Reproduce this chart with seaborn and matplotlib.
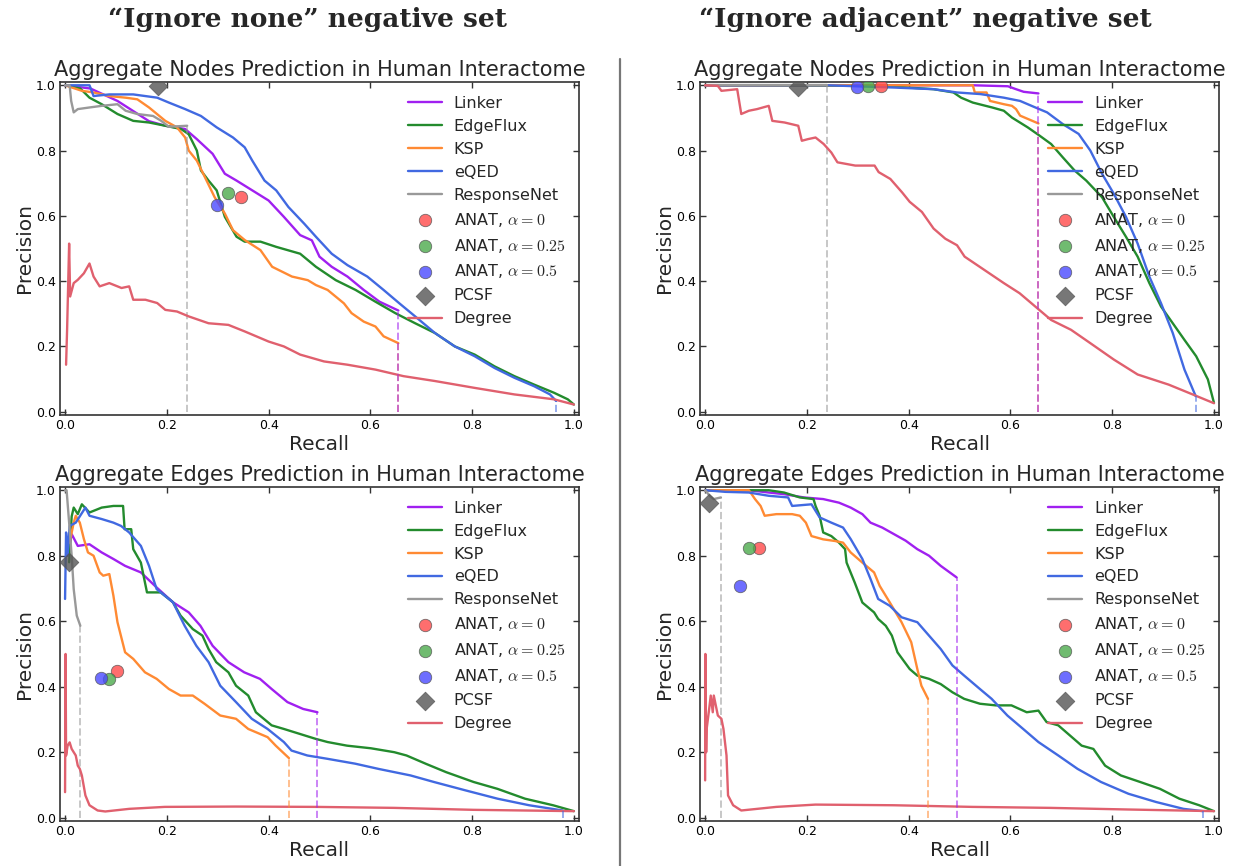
import matplotlib
matplotlib.use("Agg")
import matplotlib.pyplot as plt
import seaborn as sns
import pandas as pd

# ---- data: (recall, precision) ----
# top-left: nodes, ignore none
tl_linker = [(0, 1.0), (0.05, 0.99), (0.103, 0.952), (0.165, 0.89), (0.197, 0.876), (0.236, 0.866),
             (0.259, 0.835), (0.29, 0.79), (0.314, 0.729), (0.337, 0.708), (0.368, 0.678), (0.4, 0.647),
             (0.43, 0.597), (0.462, 0.541), (0.485, 0.525), (0.5, 0.475), (0.524, 0.444), (0.555, 0.414),
             (0.587, 0.373), (0.618, 0.337), (0.655, 0.31)]
tl_edgeflux = [(0, 1.0), (0.03, 0.99), (0.048, 0.962), (0.072, 0.942), (0.103, 0.912), (0.134, 0.891),
               (0.165, 0.886), (0.197, 0.876), (0.228, 0.866), (0.243, 0.85), (0.259, 0.8), (0.267, 0.739),
               (0.282, 0.708), (0.298, 0.678), (0.314, 0.597), (0.337, 0.536), (0.353, 0.521), (0.384, 0.521),
               (0.415, 0.505), (0.462, 0.484), (0.493, 0.444), (0.532, 0.403), (0.571, 0.373), (0.61, 0.337),
               (0.649, 0.302), (0.688, 0.271), (0.727, 0.241), (0.766, 0.2), (0.805, 0.175), (0.844, 0.139),
               (0.883, 0.109), (0.922, 0.083), (0.961, 0.058), (0.988, 0.038), (1.0, 0.022)]
tl_ksp = [(0, 1.0), (0.033, 0.983), (0.056, 0.978), (0.087, 0.967), (0.119, 0.962), (0.142, 0.957),
          (0.165, 0.932), (0.197, 0.891), (0.22, 0.871), (0.236, 0.84), (0.243, 0.8), (0.259, 0.769),
          (0.275, 0.718), (0.294, 0.657), (0.314, 0.607), (0.33, 0.556), (0.353, 0.526), (0.384, 0.495),
          (0.407, 0.444), (0.446, 0.414), (0.477, 0.403), (0.493, 0.388), (0.516, 0.373), (0.548, 0.332),
          (0.563, 0.302), (0.587, 0.276), (0.61, 0.261), (0.626, 0.231), (0.655, 0.21)]
tl_eqed = [(0, 1.0), (0.048, 1.0), (0.056, 0.967), (0.087, 0.972), (0.134, 0.972), (0.181, 0.962),
           (0.204, 0.947), (0.236, 0.927), (0.267, 0.906), (0.298, 0.871), (0.33, 0.84), (0.353, 0.81),
           (0.368, 0.769), (0.392, 0.708), (0.415, 0.678), (0.439, 0.627), (0.47, 0.576), (0.493, 0.536),
           (0.524, 0.484), (0.555, 0.449), (0.594, 0.414), (0.626, 0.373), (0.657, 0.332), (0.688, 0.292),
           (0.727, 0.241), (0.766, 0.2), (0.805, 0.17), (0.844, 0.134), (0.883, 0.104), (0.922, 0.078),
           (0.953, 0.053), (0.965, 0.033)]
tl_respnet = [(0, 1.0), (0.009, 1.0), (0.012, 0.952), (0.017, 0.917), (0.025, 0.927), (0.048, 0.932),
              (0.072, 0.937), (0.103, 0.942), (0.119, 0.922), (0.142, 0.912), (0.173, 0.906), (0.189, 0.891),
              (0.204, 0.873), (0.24, 0.876)]
tl_degree = [(0.002, 0.144), (0.004, 0.251), (0.008, 0.515), (0.01, 0.353), (0.017, 0.394), (0.025, 0.404),
             (0.037, 0.424), (0.048, 0.454), (0.056, 0.414), (0.068, 0.384), (0.087, 0.394), (0.111, 0.379),
             (0.126, 0.384), (0.134, 0.343), (0.158, 0.343), (0.181, 0.333), (0.197, 0.312), (0.22, 0.307),
             (0.243, 0.292), (0.282, 0.271), (0.321, 0.266), (0.353, 0.246), (0.4, 0.215), (0.43, 0.2),
             (0.462, 0.175), (0.509, 0.154), (0.555, 0.144), (0.61, 0.129), (0.665, 0.109), (0.727, 0.094),
             (0.805, 0.073), (0.883, 0.053), (0.961, 0.038), (1.0, 0.022)]
tl_points = [(0.346, 0.658), (0.321, 0.67), (0.298, 0.634), (0.183, 0.998)]  # ANAT 0, 0.25, 0.5, PCSF

# top-right: nodes, ignore adjacent
tr_linker = [(0, 1.0), (0.526, 1.0), (0.595, 0.997), (0.611, 0.988), (0.626, 0.98), (0.655, 0.975)]
tr_edgeflux = [(0, 1.0), (0.349, 0.998), (0.449, 0.988), (0.488, 0.978), (0.503, 0.962), (0.526, 0.947),
               (0.564, 0.932), (0.587, 0.922), (0.603, 0.901), (0.634, 0.871), (0.657, 0.846), (0.68, 0.82),
               (0.703, 0.779), (0.726, 0.739), (0.749, 0.708), (0.78, 0.657), (0.803, 0.597), (0.827, 0.536),
               (0.85, 0.475), (0.873, 0.394), (0.896, 0.322), (0.919, 0.271), (0.942, 0.22), (0.965, 0.17),
               (0.988, 0.099), (1.0, 0.027)]
tr_ksp = [(0, 1.0), (0.526, 1.0), (0.53, 0.978), (0.553, 0.978), (0.56, 0.952), (0.587, 0.942),
          (0.603, 0.937), (0.611, 0.927), (0.619, 0.907), (0.634, 0.897), (0.655, 0.883)]
tr_eqed = [(0, 1.0), (0.24, 1.0), (0.372, 0.993), (0.449, 0.988), (0.495, 0.978), (0.541, 0.973),
           (0.587, 0.962), (0.619, 0.952), (0.649, 0.932), (0.672, 0.917), (0.703, 0.881), (0.734, 0.851),
           (0.757, 0.8), (0.78, 0.729), (0.803, 0.668), (0.827, 0.597), (0.85, 0.515), (0.873, 0.414),
           (0.896, 0.332), (0.919, 0.241), (0.942, 0.129), (0.964, 0.048)]
tr_respnet = [(0, 1.0), (0.24, 1.0)]
tr_degree = [(0, 1.0), (0.025, 0.998), (0.032, 0.983), (0.063, 0.988), (0.071, 0.912), (0.086, 0.922),
             (0.102, 0.927), (0.125, 0.937), (0.132, 0.891), (0.156, 0.886), (0.183, 0.876), (0.19, 0.83),
             (0.202, 0.835), (0.217, 0.84), (0.233, 0.82), (0.248, 0.794), (0.26, 0.764), (0.295, 0.754),
             (0.333, 0.754), (0.341, 0.734), (0.364, 0.713), (0.387, 0.672), (0.402, 0.643), (0.426, 0.612),
             (0.449, 0.561), (0.472, 0.53), (0.495, 0.51), (0.51, 0.475), (0.549, 0.434), (0.587, 0.394),
             (0.618, 0.363), (0.649, 0.322), (0.68, 0.281), (0.719, 0.251), (0.757, 0.21), (0.803, 0.16),
             (0.85, 0.114), (0.911, 0.083), (0.958, 0.053), (1.0, 0.026)]
tr_points = [(0.345, 0.998), (0.32, 0.998), (0.298, 0.996), (0.183, 0.996)]

# bottom-left: edges, ignore none
bl_linker = [(0.005, 0.8), (0.013, 0.866), (0.025, 0.83), (0.048, 0.835), (0.072, 0.81), (0.095, 0.79),
             (0.118, 0.769), (0.149, 0.749), (0.18, 0.703), (0.212, 0.658), (0.243, 0.627), (0.266, 0.586),
             (0.29, 0.525), (0.321, 0.475), (0.352, 0.444), (0.383, 0.424), (0.406, 0.393), (0.437, 0.353),
             (0.468, 0.332), (0.496, 0.322)]
bl_edgeflux = [(0.008, 0.78), (0.013, 0.92), (0.017, 0.947), (0.025, 0.927), (0.033, 0.957), (0.048, 0.932),
               (0.072, 0.947), (0.095, 0.952), (0.114, 0.952), (0.117, 0.881), (0.13, 0.881), (0.134, 0.82),
               (0.149, 0.779), (0.161, 0.688), (0.188, 0.688), (0.212, 0.658), (0.227, 0.617), (0.251, 0.576),
               (0.27, 0.556), (0.282, 0.515), (0.297, 0.475), (0.321, 0.444), (0.336, 0.403), (0.36, 0.373),
               (0.375, 0.322), (0.406, 0.282), (0.43, 0.271), (0.461, 0.256), (0.492, 0.241), (0.516, 0.231),
               (0.554, 0.22), (0.601, 0.212), (0.647, 0.2), (0.671, 0.19), (0.71, 0.164), (0.749, 0.139),
               (0.803, 0.109), (0.85, 0.088), (0.904, 0.058), (0.959, 0.038), (1.0, 0.02)]
bl_ksp = [(0.009, 0.84), (0.017, 0.901), (0.021, 0.922), (0.029, 0.901), (0.037, 0.851), (0.045, 0.81),
          (0.056, 0.8), (0.068, 0.749), (0.075, 0.739), (0.087, 0.744), (0.095, 0.678), (0.103, 0.597),
          (0.118, 0.505), (0.134, 0.485), (0.157, 0.444), (0.18, 0.424), (0.204, 0.393), (0.227, 0.373),
          (0.251, 0.373), (0.274, 0.348), (0.305, 0.312), (0.336, 0.302), (0.36, 0.271), (0.398, 0.246),
          (0.414, 0.22), (0.44, 0.182)]
bl_eqed = [(0.0, 0.668), (0.002, 0.871), (0.005, 0.8), (0.009, 0.891), (0.021, 0.901), (0.04, 0.947),
           (0.048, 0.922), (0.072, 0.912), (0.095, 0.901), (0.11, 0.891), (0.126, 0.871), (0.149, 0.83),
           (0.165, 0.769), (0.18, 0.698), (0.212, 0.658), (0.235, 0.586), (0.258, 0.525), (0.282, 0.475),
           (0.305, 0.403), (0.336, 0.353), (0.367, 0.302), (0.398, 0.271), (0.43, 0.231), (0.445, 0.205),
           (0.476, 0.19), (0.515, 0.18), (0.57, 0.165), (0.616, 0.149), (0.679, 0.129), (0.725, 0.109),
           (0.788, 0.083), (0.85, 0.058), (0.912, 0.038), (0.978, 0.022)]
bl_respnet = [(0.0, 1.0), (0.003, 1.0), (0.008, 0.901), (0.013, 0.8), (0.017, 0.698), (0.023, 0.617),
              (0.03, 0.586)]
bl_degree = [(0.0, 0.078), (0.001, 0.5), (0.002, 0.19), (0.005, 0.22), (0.009, 0.23), (0.013, 0.21),
             (0.017, 0.2), (0.021, 0.19), (0.025, 0.159), (0.029, 0.149), (0.033, 0.129), (0.04, 0.068),
             (0.048, 0.038), (0.064, 0.022), (0.079, 0.019), (0.126, 0.027), (0.196, 0.033), (0.336, 0.034),
             (0.492, 0.033), (0.647, 0.03), (0.803, 0.024), (1.0, 0.02)]
bl_points = [(0.103, 0.447), (0.087, 0.424), (0.07, 0.427), (0.008, 0.78)]

# bottom-right: edges, ignore adjacent
br_linker = [(0, 1.0), (0.086, 1.0), (0.125, 0.993), (0.155, 0.988), (0.194, 0.978), (0.232, 0.973),
             (0.263, 0.962), (0.286, 0.947), (0.309, 0.927), (0.325, 0.901), (0.348, 0.886), (0.371, 0.866),
             (0.394, 0.846), (0.417, 0.82), (0.44, 0.8), (0.463, 0.769), (0.494, 0.734)]
br_edgeflux = [(0, 1.0), (0.125, 1.0), (0.155, 0.993), (0.186, 0.978), (0.213, 0.973), (0.217, 0.952),
               (0.225, 0.922), (0.232, 0.871), (0.248, 0.86), (0.263, 0.84), (0.275, 0.82), (0.278, 0.779),
               (0.294, 0.718), (0.309, 0.657), (0.332, 0.627), (0.34, 0.607), (0.355, 0.586), (0.367, 0.556),
               (0.378, 0.505), (0.402, 0.454), (0.417, 0.434), (0.44, 0.424), (0.463, 0.408), (0.486, 0.383),
               (0.509, 0.363), (0.54, 0.348), (0.571, 0.343), (0.602, 0.343), (0.632, 0.322), (0.655, 0.327),
               (0.671, 0.292), (0.694, 0.282), (0.717, 0.251), (0.74, 0.22), (0.763, 0.21), (0.786, 0.159),
               (0.817, 0.129), (0.855, 0.109), (0.894, 0.088), (0.932, 0.058), (0.971, 0.038), (1.0, 0.02)]
br_ksp = [(0, 1.0), (0.086, 1.0), (0.098, 0.973), (0.109, 0.952), (0.117, 0.922), (0.14, 0.927),
          (0.171, 0.927), (0.186, 0.922), (0.198, 0.901), (0.209, 0.86), (0.232, 0.85), (0.255, 0.845),
          (0.271, 0.84), (0.286, 0.81), (0.309, 0.779), (0.332, 0.749), (0.343, 0.708), (0.363, 0.657),
          (0.386, 0.597), (0.405, 0.536), (0.417, 0.454), (0.425, 0.403), (0.438, 0.363)]
br_eqed = [(0, 1.0), (0.04, 0.995), (0.086, 0.993), (0.125, 0.983), (0.163, 0.978), (0.171, 0.952),
           (0.209, 0.957), (0.225, 0.917), (0.248, 0.901), (0.271, 0.886), (0.286, 0.851), (0.309, 0.79),
           (0.325, 0.729), (0.34, 0.668), (0.363, 0.647), (0.386, 0.612), (0.417, 0.597), (0.44, 0.556),
           (0.463, 0.515), (0.486, 0.465), (0.509, 0.434), (0.54, 0.393), (0.563, 0.363), (0.594, 0.312),
           (0.625, 0.271), (0.655, 0.231), (0.694, 0.19), (0.732, 0.149), (0.778, 0.109), (0.832, 0.073),
           (0.886, 0.048), (0.94, 0.027), (0.978, 0.02)]
br_respnet = [(0, 1.0), (0.009, 0.983), (0.017, 0.973), (0.031, 0.978)]
br_degree = [(0.0, 0.114), (0.0005, 0.5), (0.002, 0.2), (0.003, 0.271), (0.008, 0.333), (0.011, 0.373),
             (0.015, 0.322), (0.017, 0.373), (0.025, 0.312), (0.032, 0.302), (0.036, 0.271), (0.042, 0.19),
             (0.045, 0.068), (0.055, 0.038), (0.071, 0.022), (0.14, 0.033), (0.217, 0.04), (0.371, 0.038),
             (0.525, 0.033), (0.678, 0.03), (0.832, 0.025), (1.0, 0.02)]
br_points = [(0.105, 0.824), (0.086, 0.824), (0.069, 0.708), (0.008, 0.96)]

methods = ["Linker", "EdgeFlux", "KSP", "eQED", "ResponseNet"]
colors = {"Linker": "#a020f0", "EdgeFlux": "#238b2d", "KSP": "#ff8a33", "eQED": "#4169e1",
          "ResponseNet": "#999999", "Degree": "#e0606e"}
# dashed drop lines: orange drawn below purple where they coincide
drop_z = {"Linker": 2.4, "EdgeFlux": 2.1, "KSP": 2.2, "eQED": 2.3, "ResponseNet": 2.0}
point_labels = ["ANAT, $\\alpha=0$", "ANAT, $\\alpha=0.25$", "ANAT, $\\alpha=0.5$", "PCSF"]
point_colors = ["#ff4a4a", "#4caa4c", "#4a4aff", "#555555"]
point_markers = ["o", "o", "o", "D"]

panels = [
    ("Aggregate Nodes Prediction in Human Interactome",
     [tl_linker, tl_edgeflux, tl_ksp, tl_eqed, tl_respnet], tl_degree, tl_points),
    ("Aggregate Nodes Prediction in Human Interactome",
     [tr_linker, tr_edgeflux, tr_ksp, tr_eqed, tr_respnet], tr_degree, tr_points),
    ("Aggregate Edges Prediction in Human Interactome",
     [bl_linker, bl_edgeflux, bl_ksp, bl_eqed, bl_respnet], bl_degree, bl_points),
    ("Aggregate Edges Prediction in Human Interactome",
     [br_linker, br_edgeflux, br_ksp, br_eqed, br_respnet], br_degree, br_points),
]

sns.set_style("white", {
    "xtick.direction": "in", "ytick.direction": "in",
    "xtick.top": True, "ytick.right": True,
    "xtick.bottom": True, "ytick.left": True,
    "axes.edgecolor": "#333333",
})
plt.rcParams["font.family"] = ["DejaVu Sans"]
plt.rcParams["mathtext.fontset"] = "cm"

fig = plt.figure(figsize=(12.34, 8.66), dpi=100)
rects = [[0.0486, 0.5208, 0.4206, 0.3845], [0.5673, 0.5208, 0.4206, 0.3845],
         [0.0486, 0.052, 0.4206, 0.3857], [0.5673, 0.052, 0.4206, 0.3857]]


def curve_df(pairs):
    return pd.DataFrame(pairs, columns=["Recall", "Precision"])


for rect, (title, curves, degree, points) in zip(rects, panels):
    ax = fig.add_axes(rect)
    for name, pairs in zip(methods, curves):
        df = curve_df(pairs)
        sns.lineplot(data=df, x="Recall", y="Precision", sort=False, estimator=None,
                     color=colors[name], lw=1.7, label=name, ax=ax)
        r_end, p_end = pairs[-1]
        if r_end < 0.99:
            ax.vlines(r_end, 0, p_end, colors=colors[name], linestyles="--", lw=1.4,
                      alpha=0.55, zorder=drop_z[name])
    for (r, p), lab, col, mk in zip(points, point_labels, point_colors, point_markers):
        sns.scatterplot(x=[r], y=[p], marker=mk, s=80 if mk == "o" else 90, color=col,
                        alpha=0.8, edgecolor="#555555", linewidth=0.6, label=lab, ax=ax, zorder=5)
    ddf = curve_df(degree)
    sns.lineplot(data=ddf, x="Recall", y="Precision", sort=False, estimator=None,
                 color=colors["Degree"], lw=1.7, label="Degree", ax=ax)

    ax.set_xlim(-0.01, 1.01)
    ax.set_ylim(-0.01, 1.01)
    ax.set_xticks([0.0, 0.2, 0.4, 0.6, 0.8, 1.0])
    ax.set_yticks([0.0, 0.2, 0.4, 0.6, 0.8, 1.0])
    ax.tick_params(labelsize=9, length=4, width=1, pad=3, colors="#333333", labelcolor="black")
    for sp in ax.spines.values():
        sp.set_linewidth(1.2)
    ax.set_xlabel("Recall", fontsize=14.5, labelpad=2)
    ax.set_ylabel("Precision", fontsize=14.5, labelpad=1)
    ax.set_title(title, fontsize=15, pad=4)
    ax.legend(loc="upper right", bbox_to_anchor=(1.0, 1.0), frameon=False, fontsize=11.5,
              handlelength=2.1, handletextpad=0.75, labelspacing=0.5, borderpad=0.65,
              borderaxespad=0.2, scatterpoints=1)

hdr = dict(fontsize=19, fontweight="bold", family=["DejaVu Serif"], ha="center", va="center")
fig.text(308 / 1234, 1 - 19 / 866, "\u201cIgnore none\u201d negative set", **hdr)
fig.text(925 / 1234, 1 - 19 / 866, "\u201cIgnore adjacent\u201d negative set", **hdr)
fig.add_artist(plt.Line2D([620 / 1234, 620 / 1234], [0, 1 - 59 / 866], color="#777777", lw=1.6))

fig.savefig("out.png", dpi=100)
